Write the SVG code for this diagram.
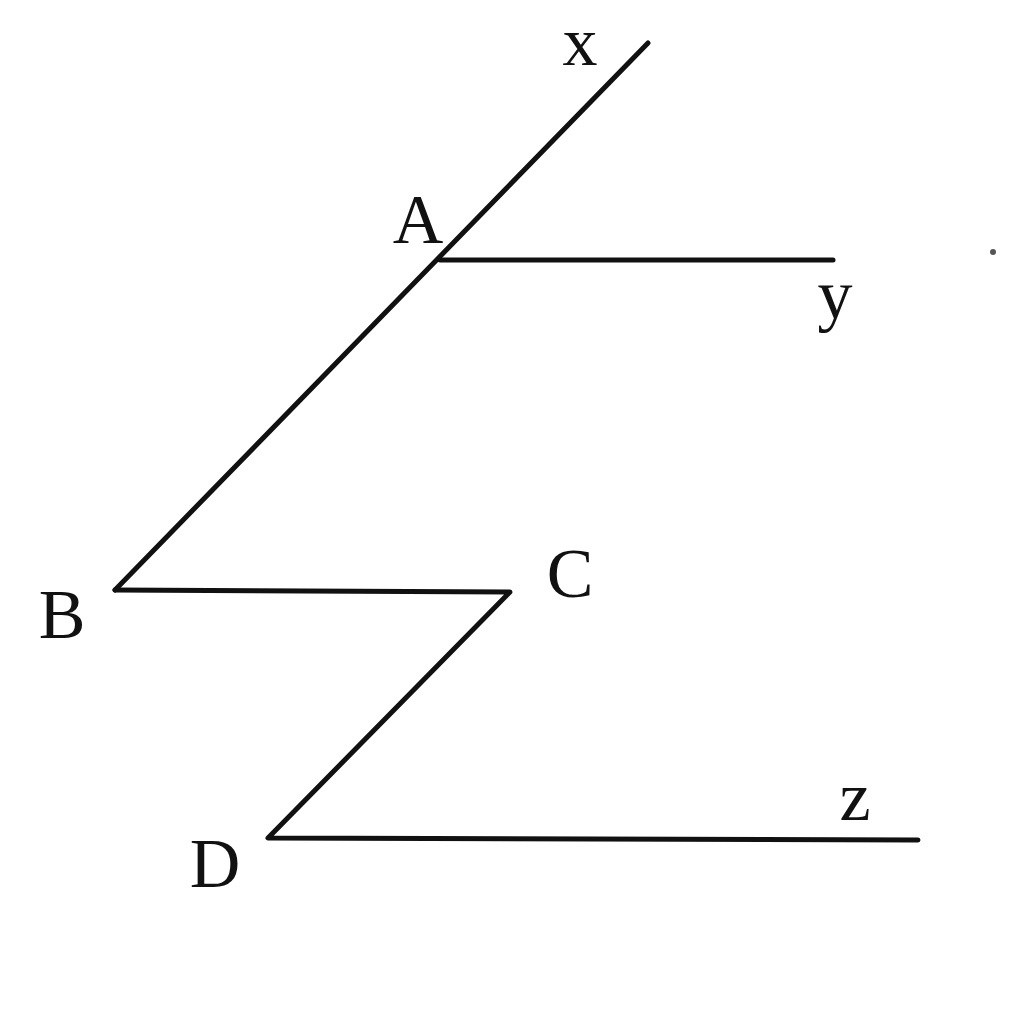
<svg xmlns="http://www.w3.org/2000/svg" width="1024" height="1029" viewBox="0 0 1024 1029">
<style>
.ln{stroke:#111;stroke-width:5;fill:none;stroke-linecap:round;stroke-linejoin:round}
.lb{font-family:"Liberation Serif","Times New Roman",serif;font-size:70px;fill:#111;text-anchor:middle}
</style>
<rect width="1024" height="1029" fill="#fff"/>
<g id="lines">
<line class="ln" x1="648" y1="43" x2="115" y2="590"/>
<line class="ln" x1="440" y1="260" x2="833" y2="260"/>
<polyline class="ln" points="115,590 510,592 268,838 918,840"/>
</g>
<g id="labels">
<text class="lb" x="580" y="65">x</text>
<text class="lb" x="418" y="243">A</text>
<text class="lb" x="835" y="318">y</text>
<text class="lb" x="62" y="638">B</text>
<text class="lb" x="570" y="597">C</text>
<text class="lb" x="215" y="887">D</text>
<text class="lb" x="855" y="820">z</text>
</g>
<circle cx="993" cy="252" r="3" fill="#555"/>
</svg>
